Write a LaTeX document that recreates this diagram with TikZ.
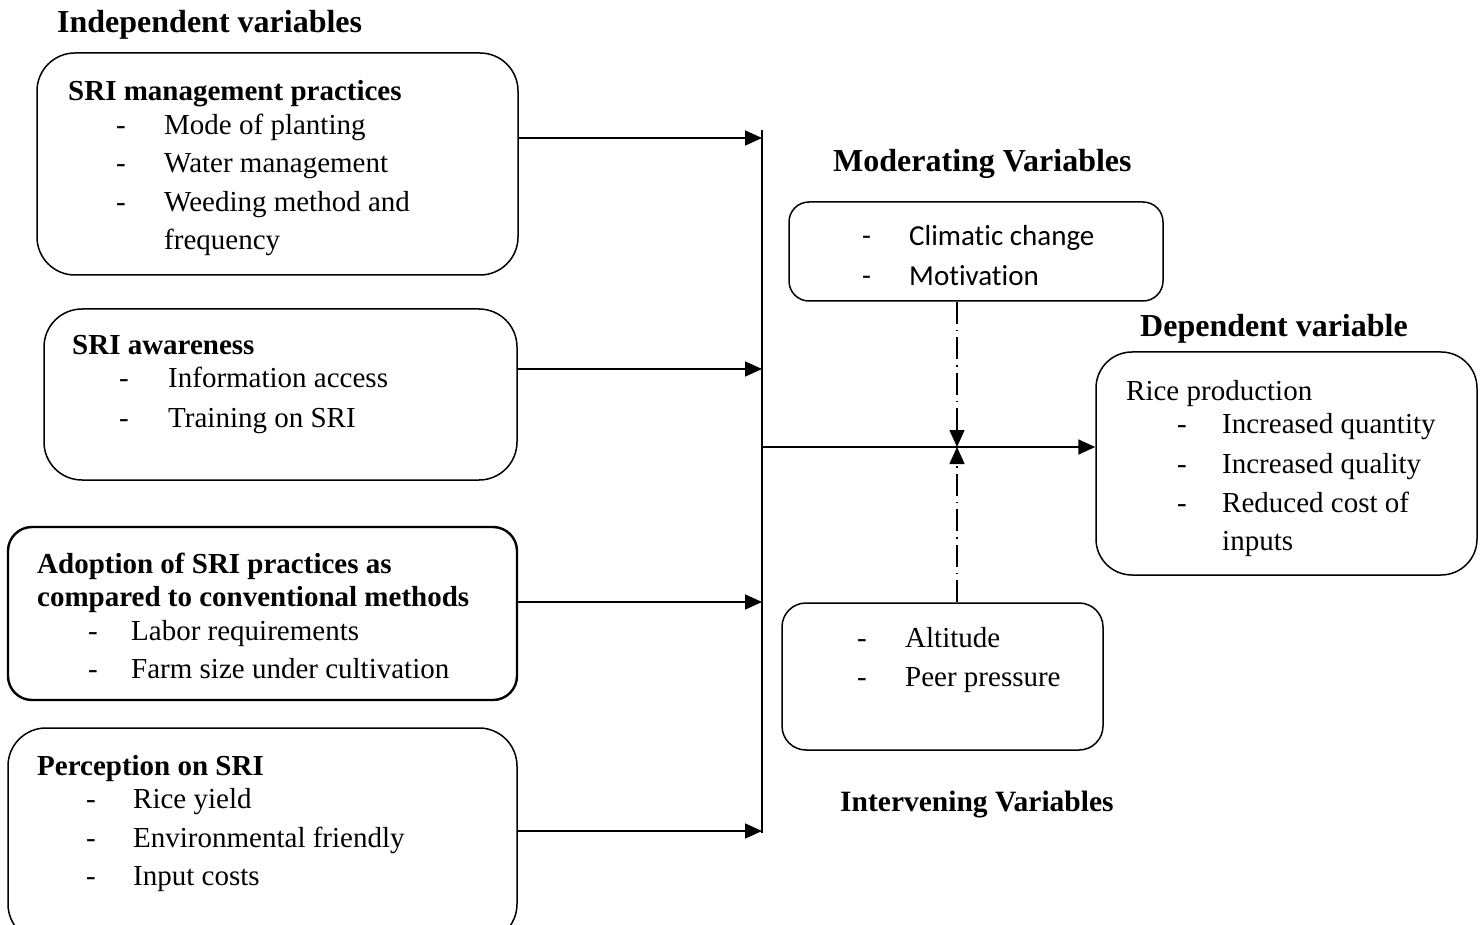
\documentclass[tikz,border=0pt]{standalone}
\usepackage{fontspec}
\setmainfont{Liberation Serif}
\newfontfamily\calfont[Ligatures=NoCommon]{Carlito}
\usetikzlibrary{arrows.meta}
\begin{document}
\begin{tikzpicture}[x=1pt,y=-1pt,
    varbox/.style={draw,line width=1.5pt,rounded corners=38pt,inner sep=0},
    flow/.style={line width=1.8pt,-{Triangle[length=17pt,width=15pt]}},
    dashdot/.style={line width=1.4pt,dash pattern=on 22pt off 6pt on 1.5pt off 6pt,
      -{Triangle[length=17pt,width=15pt]}}]

      \useasboundingbox (0,0) rectangle (1481,925);

      % boxes
      \begin{scope}[every node/.style={varbox}]
        \node (mgmt)  [minimum width=481pt,minimum height=222pt] at (277.5,164) {};
        \node (aware) [minimum width=473pt,minimum height=171pt] at (280.5,394.5) {};
        \node (adopt) [minimum width=509pt,minimum height=173pt,line width=2.4pt,rounded corners=24pt] at (262.5,613.5) {};
        \node (percp) [minimum width=509pt,minimum height=214pt] at (262.5,835) {};
        \node (moder) [minimum width=374pt,minimum height=99pt,rounded corners=20pt] at (976,251.5) {};
        \node (inter) [minimum width=321pt,minimum height=147pt,rounded corners=24pt] at (942.5,676.5) {};
        \node (depnd) [minimum width=381pt,minimum height=223pt,rounded corners=36pt] at (1286.5,463.5) {};
      \end{scope}

      % headings
      \begin{scope}[every node/.style={anchor=base west,yshift=-11pt,inner sep=0,font=\fontsize{32}{38}\selectfont\bfseries}]
        \node (indep) at (57,22) {Independent variables};
        \node (modt)  at (833,161) {Moderating Variables};
        \node (dept)  at (1140,326) {Dependent variable};
        \node[font=\fontsize{29.5}{38}\selectfont\bfseries] (intt) at (840,800) {Intervening Variables};
      \end{scope}

      % box texts
      \begin{scope}[every node/.style={anchor=base west,yshift=-10pt,inner sep=0,font=\fontsize{29}{38}\selectfont}]
        \node[font=\fontsize{29}{38}\selectfont\bfseries] (m0) at (68,91) {SRI management practices};
        \node at (116,125) {-}; \node (m1) at (164,125) {Mode of planting};
        \node at (116,163) {-}; \node (m2) at (164,163) {Water management};
        \node at (116,202) {-}; \node (m3) at (164,202) {Weeding method and};
        \node (m4) at (164,240) {frequency};

        \node[font=\fontsize{29}{38}\selectfont\bfseries] (a0) at (72,345) {SRI awareness};
        \node at (119,378) {-}; \node (a1) at (168,378) {Information access};
        \node at (119,417) {-}; \node (a2) at (168,417) {Training on SRI};

        \node[font=\fontsize{29}{38}\selectfont\bfseries] (d0) at (37,563) {Adoption of SRI practices as};
        \node[font=\fontsize{29}{38}\selectfont\bfseries] (d1) at (37,596) {compared to conventional methods};
        \node at (88,630) {-}; \node (d2) at (131,630) {Labor requirements};
        \node at (88,668) {-}; \node (d3) at (131,668) {Farm size under cultivation};

        \node[font=\fontsize{29}{38}\selectfont\bfseries] (p0) at (37,765) {Perception on SRI};
        \node at (86,798) {-}; \node (p1) at (133,798) {Rice yield};
        \node at (86,837) {-}; \node (p2) at (133,837) {Environmental friendly};
        \node at (86,875) {-}; \node (p3) at (133,875) {Input costs};

        \node[font=\fontsize{29}{38}\selectfont\calfont] at (862,236) {-};
        \node[font=\fontsize{29}{38}\selectfont\calfont] (o1) at (909,236) {Climatic change};
        \node[font=\fontsize{29}{38}\selectfont\calfont] at (862,276) {-};
        \node[font=\fontsize{29}{38}\selectfont\calfont] (o2) at (909,276) {Motivation};

        \node at (857,637) {-}; \node (i1) at (905,637) {Altitude};
        \node at (857,676) {-}; \node (i2) at (905,676) {Peer pressure};

        \node (r0) at (1126,390) {Rice production};
        \node at (1177,423) {-}; \node (r1) at (1222,423) {Increased quantity};
        \node at (1177,463) {-}; \node (r2) at (1222,463) {Increased quality};
        \node at (1177,502) {-}; \node (r3) at (1222,502) {Reduced cost of};
        \node (r4) at (1222,540) {inputs};
      \end{scope}

      % bus and connectors
      \coordinate (bustop) at (762,130);
      \coordinate (busbot) at (762,833);
      \coordinate (j1) at (762,138);
      \coordinate (j2) at (762,369);
      \coordinate (j3) at (762,602);
      \coordinate (j4) at (762,831);
      \coordinate (jm) at (762,447);
      \coordinate (meet) at (957,447);

      \draw[line width=1.8pt] (bustop) -- (busbot);
      \draw[flow] (j1 -| mgmt.east) -- (j1);
      \draw[flow] (j2 -| aware.east) -- (j2);
      \draw[flow] (j3 -| adopt.east) -- (j3);
      \draw[flow] (j4 -| percp.east) -- (j4);
      \draw[flow] (jm) -- (jm -| depnd.west);
      \draw[dashdot] (meet |- moder.south) -- (meet);
      \draw[dashdot] (meet |- inter.north) -- (meet);

    \end{tikzpicture}
\end{document}
